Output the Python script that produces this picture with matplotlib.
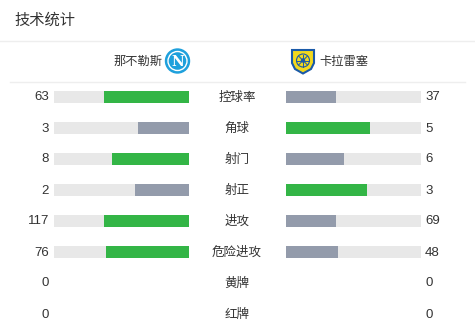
import matplotlib
matplotlib.use("Agg")
import matplotlib.pyplot as plt
from matplotlib.patches import Circle, Polygon
import numpy as np

plt.rcParams['font.family'] = ['Noto Sans CJK SC', 'DejaVu Sans']

title = "技术统计"
home_team = "那不勒斯"
away_team = "卡拉雷塞"
categories = ["控球率", "角球", "射门", "射正", "进攻", "危险进攻", "黄牌", "红牌"]
home_values = [63, 3, 8, 2, 117, 76, 0, 0]
away_values = [37, 5, 6, 3, 69, 48, 0, 0]

GREEN = "#33b546"
GRAY = "#939bab"
TRACK = "#e8e8e8"
TEXT = "#333333"

W, H = 475, 330
fig = plt.figure(figsize=(W / 100, H / 100), dpi=100)
ax = fig.add_axes([0, 0, 1, 1])
ax.set_xlim(0, W)
ax.set_ylim(H, 0)
ax.axis("off")

# title and separators
ax.text(14, 20, title, fontsize=11, color=TEXT, va="center", ha="left")
ax.plot([0, W], [40.5, 40.5], color="#eeeeee", lw=1)
ax.plot([10, 465], [81.5, 81.5], color="#eeeeee", lw=1)

# header
ax.text(162, 61, home_team, fontsize=8.8, color=TEXT, va="center", ha="right")
ax.text(319, 61, away_team, fontsize=8.8, color=TEXT, va="center", ha="left")

# Napoli logo
ax.add_patch(Circle((177.5, 61), 12, color="#1ea0dc", zorder=3))
ax.add_patch(Circle((177.5, 61), 9.5, fill=False, ec="white", lw=1.0, zorder=4))
ax.text(177.5, 61.5, "N", fontsize=10, fontweight="bold", color="white",
        ha="center", va="center", family="DejaVu Serif", zorder=5)

# Carrarese shield
shield = Polygon([[292, 50], [314, 50], [314, 63], [311, 69], [303, 73.5], [295, 69], [292, 63]],
                 closed=True, fc="#f2d81c", ec="#1a5aa8", lw=1.5, zorder=3)
ax.add_patch(shield)
ax.add_patch(Circle((303, 60.5), 6.5, fill=False, ec="#1a5aa8", lw=0.8, zorder=4))
for a in np.linspace(0, np.pi, 5)[:-1]:
    ax.plot([303 - 6 * np.cos(a), 303 + 6 * np.cos(a)],
            [60.5 - 6 * np.sin(a), 60.5 + 6 * np.sin(a)], color="#1a5aa8", lw=0.7, zorder=4)
ax.add_patch(Circle((303, 60.5), 1.5, color="#1a5aa8", zorder=5))

# rows
y0, dy = 97, 31
bar_w = 135
lx0, rx0 = 54, 286
bar_h = 12
for i, (cat, hv, av) in enumerate(zip(categories, home_values, away_values)):
    y = y0 + i * dy
    ax.text(237, y, cat, fontsize=9, color=TEXT, ha="center", va="center")
    ax.text(49, y + 0.5, str(hv), fontsize=9.5, color=TEXT, ha="right", va="center",
            family="Liberation Sans")
    ax.text(425, y + 0.5, str(av), fontsize=9.5, color=TEXT, ha="left", va="center",
            family="Liberation Sans")
    total = hv + av
    if total == 0:
        continue
    hf = hv / total * bar_w
    af = av / total * bar_w
    hc = GREEN if hv > av else GRAY
    ac = GREEN if av > hv else GRAY
    ax.barh(y, bar_w, left=lx0, height=bar_h, color=TRACK)
    ax.barh(y, hf, left=lx0 + bar_w - hf, height=bar_h, color=hc)
    ax.barh(y, bar_w, left=rx0, height=bar_h, color=TRACK)
    ax.barh(y, af, left=rx0, height=bar_h, color=ac)

fig.savefig("out.png", dpi=100)
